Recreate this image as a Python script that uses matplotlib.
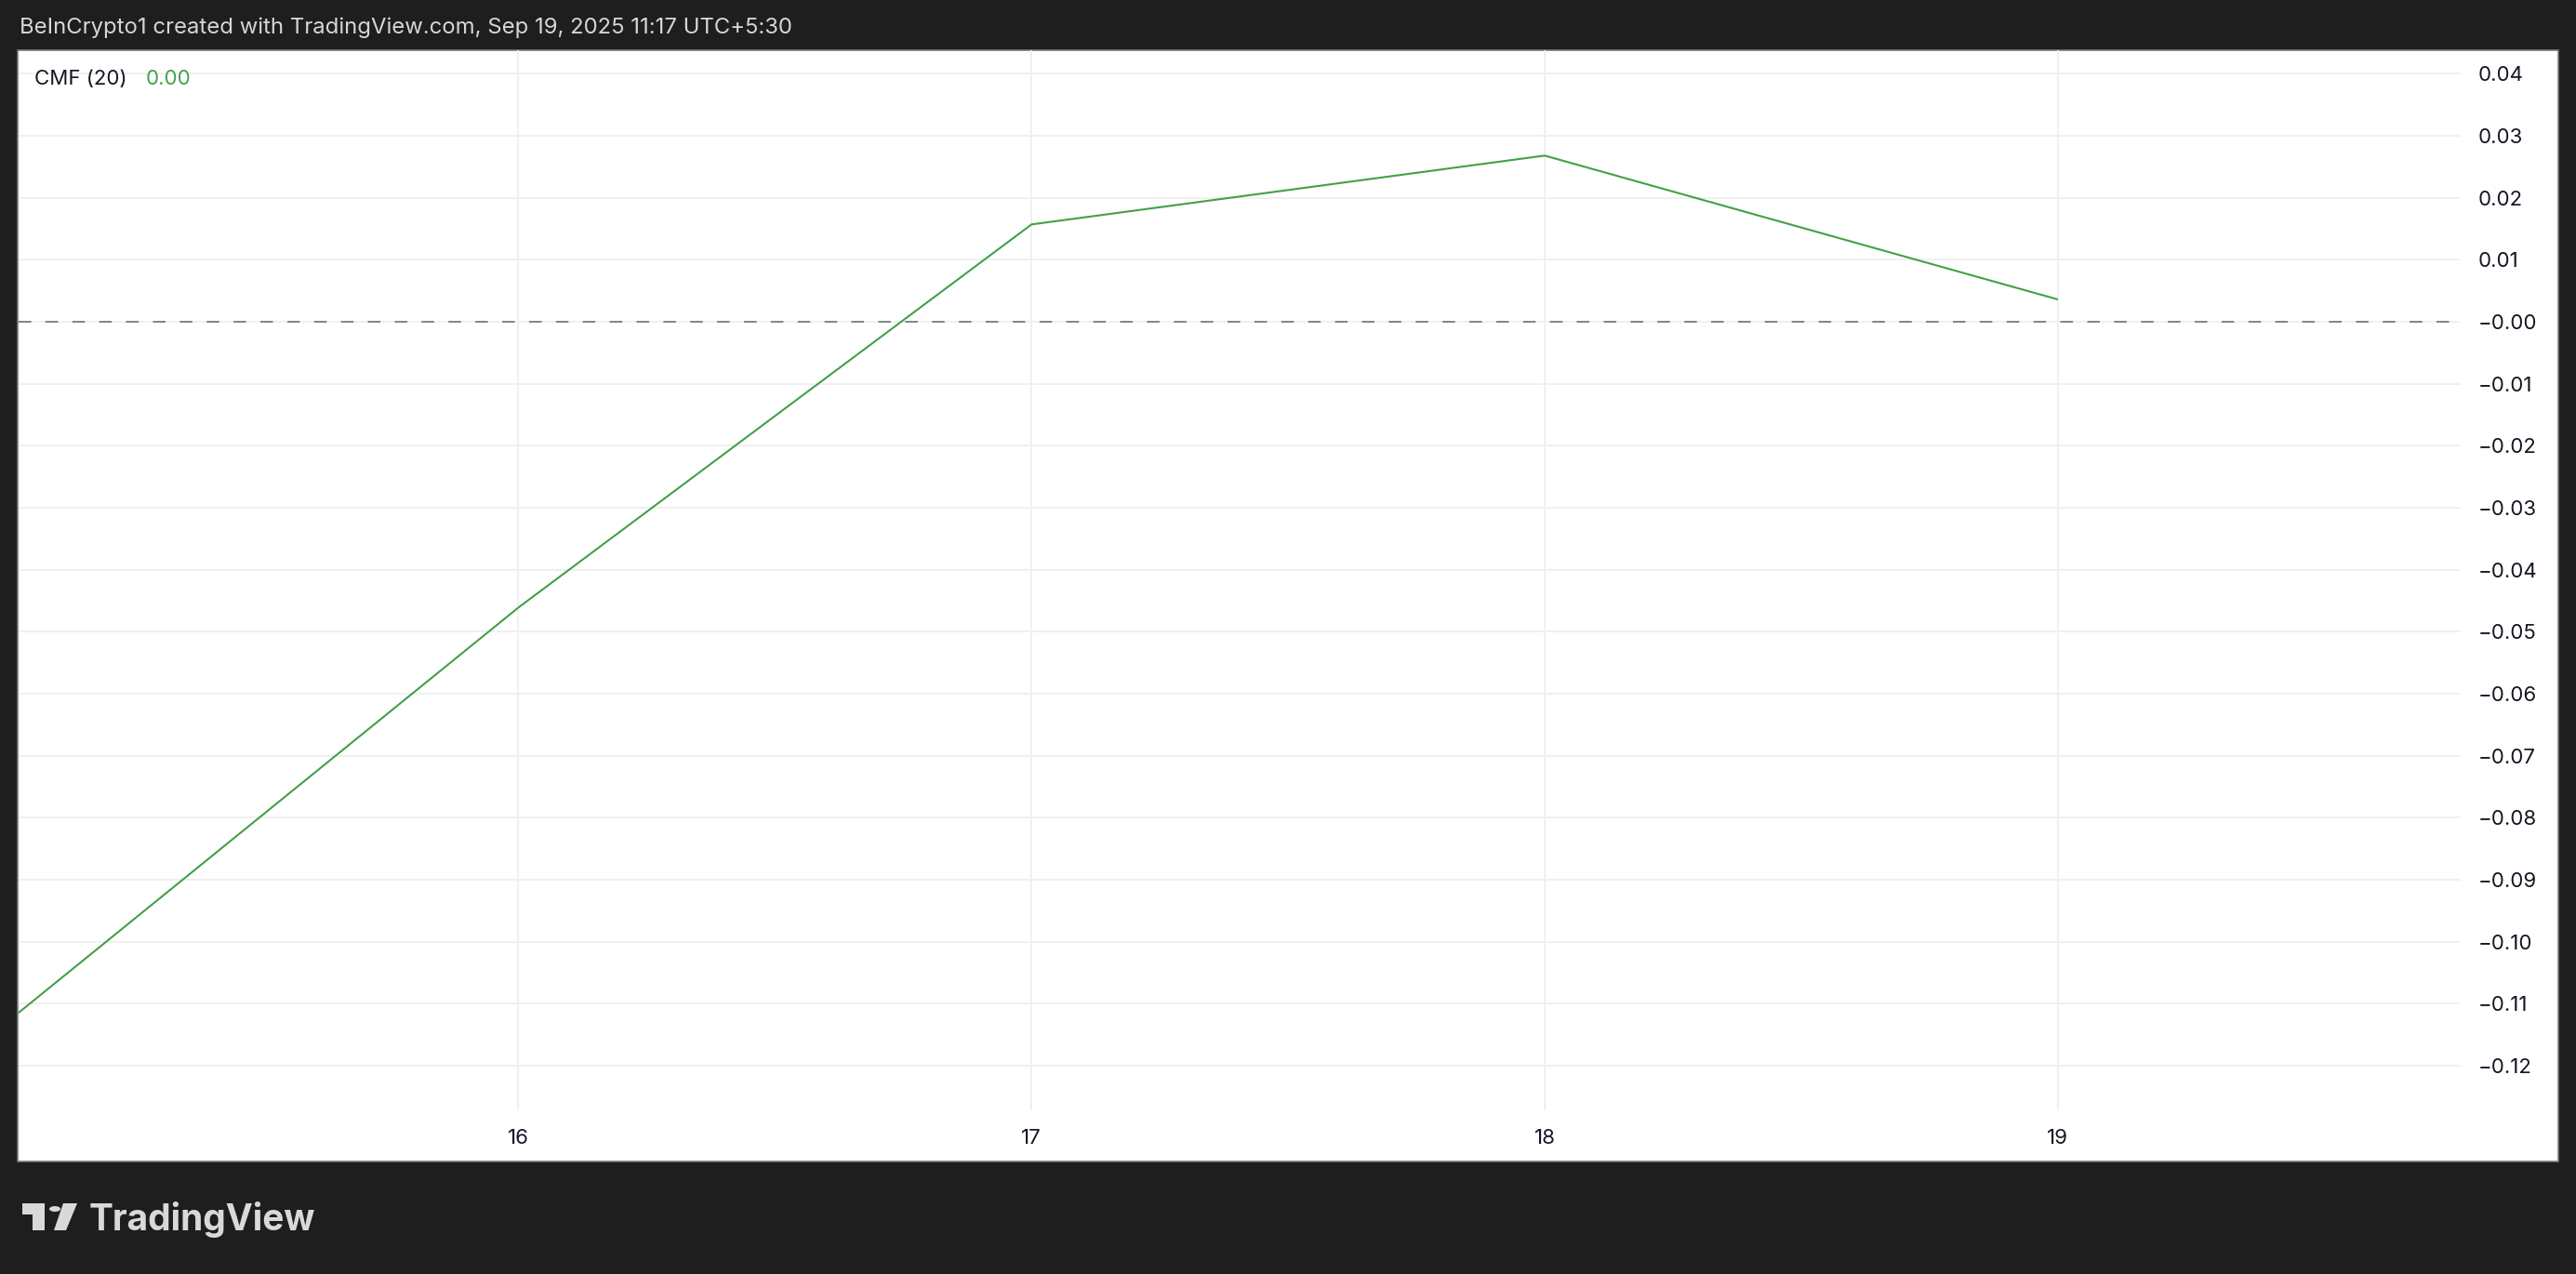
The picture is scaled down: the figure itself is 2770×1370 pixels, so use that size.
import matplotlib
matplotlib.use("Agg")
import matplotlib.pyplot as plt
from matplotlib.patches import Rectangle, Circle, Polygon

# ---- data ----
days = [15, 16, 17, 18, 19]
cmf_values = [-0.1132, -0.0461, 0.0157, 0.0268, 0.0036]
x_tick_values = [16, 17, 18, 19]
x_tick_labels = ["16", "17", "18", "19"]
y_tick_values = [0.04, 0.03, 0.02, 0.01, 0.00, -0.01, -0.02, -0.03, -0.04, -0.05,
                 -0.06, -0.07, -0.08, -0.09, -0.10, -0.11, -0.12]
y_tick_labels = ["0.04", "0.03", "0.02", "0.01", "\u22120.00", "\u22120.01", "\u22120.02",
                 "\u22120.03", "\u22120.04", "\u22120.05", "\u22120.06", "\u22120.07",
                 "\u22120.08", "\u22120.09", "\u22120.10", "\u22120.11", "\u22120.12"]
header_text = "BeInCrypto1 created with TradingView.com, Sep 19, 2025 11:17 UTC+5:30"
indicator_name = "CMF (20)"
indicator_value = "0.00"

W, H = 2770, 1370
BG = "#1e1e1e"
GREEN = "#43a047"
TEXT = "#131722"
GRID = "#f0f0f0"
FONT = ["Inter", "DejaVu Sans"]

fig = plt.figure(figsize=(W / 100, H / 100), dpi=100, facecolor=BG)

def fx(px):
    return px / W

def fy(py):
    return 1 - py / H

# white panel (behind axes)
panel = Rectangle((fx(19), fy(1249)), fx(2751) - fx(19), fy(54) - fy(1249),
                  transform=fig.transFigure, facecolor="white", edgecolor="#7a7a7a",
                  linewidth=1.2, zorder=-10)
fig.patches.append(panel)

ax_left, ax_right, ax_top, ax_bottom = 20, 2646, 54, 1194
ax = fig.add_axes([fx(ax_left), fy(ax_bottom), fx(ax_right) - fx(ax_left), fy(ax_top) - fy(ax_bottom)])
ax.set_facecolor("none")
ax.set_zorder(1)

ax.plot(days, cmf_values, color=GREEN, linewidth=1.5, zorder=3, solid_capstyle="butt")
ax.axhline(0, color="#787b86", linewidth=1.3, dashes=(7.5, 8.5), zorder=2)

ax.set_xlim(15.026, 19.785)
ax.set_ylim(-0.1272, 0.0438)

ax.set_xticks(x_tick_values)
ax.set_xticklabels(x_tick_labels)
ax.set_yticks(y_tick_values)
ax.set_yticklabels(y_tick_labels)
ax.yaxis.tick_right()
ax.tick_params(axis="both", length=0, labelsize=16, labelcolor=TEXT)
ax.tick_params(axis="y", pad=13.5)
ax.tick_params(axis="x", pad=14.5)
for lab in ax.get_xticklabels() + ax.get_yticklabels():
    lab.set_fontfamily(FONT)
for lab in ax.get_yticklabels():
    lab.set_horizontalalignment("left")

ax.grid(True, color=GRID, linewidth=1.4, zorder=0)
ax.set_axisbelow(True)
for s in ax.spines.values():
    s.set_visible(False)

# header
fig.text(fx(21), fy(30), header_text, color="#d6d6d6", fontsize=17.2,
         family=FONT, va="center", ha="left")

# indicator legend
fig.text(fx(37), fy(85), indicator_name, color=TEXT, fontsize=16,
         family=FONT, va="center", ha="left", zorder=5)
fig.text(fx(157), fy(85), indicator_value, color=GREEN, fontsize=16,
         family=FONT, va="center", ha="left", zorder=5)

# TradingView logo
LOGO = "#d9d9d9"
tf = fig.transFigure
fig.patches.append(Rectangle((fx(24), fy(1306)), fx(48) - fx(24), fy(1294) - fy(1306),
                             transform=tf, facecolor=LOGO, edgecolor="none"))
fig.patches.append(Rectangle((fx(35), fy(1323)), fx(48) - fx(35), fy(1294) - fy(1323),
                             transform=tf, facecolor=LOGO, edgecolor="none"))
fig.patches.append(Circle((fx(59), fy(1300)), 6 / W, transform=tf,
                          facecolor=LOGO, edgecolor="none"))
fig.patches.append(Polygon([(fx(68), fy(1294)), (fx(83), fy(1294)),
                            (fx(71), fy(1323)), (fx(58), fy(1323))],
                           closed=True, transform=tf, facecolor=LOGO, edgecolor="none"))
fig.text(fx(96), fy(1323), "TradingView", color=LOGO, fontsize=28,
         family=FONT, fontweight="bold", va="baseline", ha="left")

fig.savefig("out.png", dpi=100, facecolor=BG)
